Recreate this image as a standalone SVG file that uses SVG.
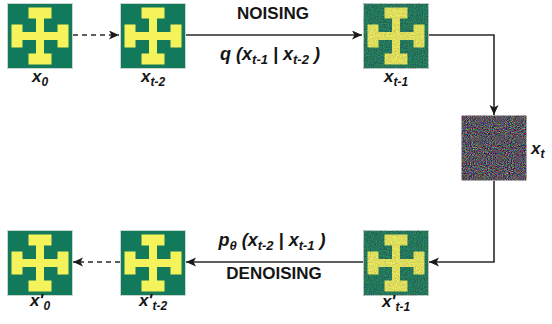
<svg xmlns="http://www.w3.org/2000/svg" xmlns:xlink="http://www.w3.org/1999/xlink" width="552" height="324" viewBox="0 0 552 324">
  <style>
    .lbl { font-family: "Liberation Sans", Arial, sans-serif; font-weight: bold; font-style: italic; font-size: 17px; fill: #151515; }
    .sub { font-size: 12px; }
    .cap { font-family: "Liberation Sans", Arial, sans-serif; font-weight: bold; font-size: 17px; fill: #151515; }
    .eq  { font-family: "Liberation Sans", Arial, sans-serif; font-weight: bold; font-style: italic; font-size: 18px; fill: #151515; }
    .eq .sub { font-size: 13px; }
    .wire { fill: none; stroke: #2a2a2a; stroke-width: 1.6; }
    .dash { stroke-dasharray: 5 4; }
  </style>
  <defs>
    <marker id="head" markerUnits="userSpaceOnUse" markerWidth="11" markerHeight="10" refX="10" refY="4.5" orient="auto">
      <path d="M0,0 L10,4.5 L0,9 L2.5,4.5 Z" fill="#1a1a1a"/>
    </marker>
    <!-- clean tile: green square with yellow cross -->
    <g id="tile">
      <rect x="0" y="0" width="65" height="65" fill="#127a5b" stroke="#c9d6cf" stroke-width="1"/>
      <path fill="#f5f35c" d="M21,4 H44 V15 H36.5 V28.5 H50 V21 H61 V44 H50 V36.5 H36.5 V50 H44 V61 H21 V50 H28.5 V36.5 H15 V44 H4 V21 H15 V28.5 H28.5 V15 H21 Z"/>
    </g>
    <!-- partially noised tile -->
    <filter id="grain" x="0" y="0" width="1" height="1" color-interpolation-filters="sRGB">
      <feTurbulence type="fractalNoise" baseFrequency="0.85" numOctaves="2" seed="3" result="n"/>
      <feColorMatrix in="n" type="matrix" values="2.6 0 0 0 -0.8  0 2.6 0 0 -0.8  0 0 2.6 0 -0.8  0 0 0 0 0.5" result="nc"/>
      <feComposite in="SourceGraphic" in2="nc" operator="arithmetic" k1="0" k2="0.85" k3="0.38" k4="-0.17" result="mix"/>
      <feComposite in="mix" in2="SourceGraphic" operator="in"/>
    </filter>
    <!-- pure noise tile -->
    <filter id="static" x="0" y="0" width="1" height="1" color-interpolation-filters="sRGB">
      <feTurbulence type="fractalNoise" baseFrequency="0.95" numOctaves="2" seed="7" result="n"/>
      <feColorMatrix in="n" type="matrix" values="1.25 0 0 0 -0.28  0 1.25 0 0 -0.3  0 0 1.25 0 -0.26  0 0 0 0 1"/>
      <feComposite in2="SourceGraphic" operator="in"/>
    </filter>
  </defs>

  <g id="connectors">
    <line class="wire dash" x1="73" y1="35" x2="119" y2="35" marker-end="url(#head)"/>
    <line class="wire" x1="185" y1="35" x2="362" y2="35" marker-end="url(#head)"/>
    <path class="wire" d="M428,35 H494 V115" marker-end="url(#head)"/>
    <path class="wire" d="M494,181 V262 H429" marker-end="url(#head)"/>
    <line class="wire" x1="363" y1="262" x2="186" y2="262" marker-end="url(#head)"/>
    <line class="wire dash" x1="120" y1="262" x2="73" y2="262" marker-end="url(#head)"/>
  </g>

  <g id="step-labels">
    <text class="cap" x="273" y="19" text-anchor="middle">NOISING</text>
    <text class="eq" x="270" y="60" text-anchor="middle">q (x<tspan class="sub" dy="4">t-1</tspan><tspan dy="-4"> | x</tspan><tspan class="sub" dy="4">t-2</tspan><tspan dy="-4"> )</tspan></text>
    <text class="eq" x="272" y="246" text-anchor="middle">p<tspan class="sub" dy="4">θ</tspan><tspan dy="-4"> (x</tspan><tspan class="sub" dy="4">t-2</tspan><tspan dy="-4"> | x</tspan><tspan class="sub" dy="4">t-1</tspan><tspan dy="-4"> )</tspan></text>
    <text class="cap" x="274" y="279" text-anchor="middle">DENOISING</text>
  </g>

  <g id="node-x0">
    <use xlink:href="#tile" x="7.5" y="3.5"/>
    <text class="lbl" x="40" y="82" text-anchor="middle">x<tspan class="sub" dy="4">0</tspan></text>
  </g>
  <g id="node-xt-2">
    <use xlink:href="#tile" x="120.5" y="3.5"/>
    <text class="lbl" x="153" y="82" text-anchor="middle">x<tspan class="sub" dy="4">t-2</tspan></text>
  </g>
  <g id="node-xt-1">
    <use xlink:href="#tile" x="363.5" y="3.5" filter="url(#grain)"/>
    <text class="lbl" x="396" y="82" text-anchor="middle">x<tspan class="sub" dy="4">t-1</tspan></text>
  </g>
  <g id="node-xt">
    <rect x="461.5" y="115.5" width="65" height="65" fill="#555" filter="url(#static)"/>
    <text class="lbl" x="531" y="154">x<tspan class="sub" dy="4">t</tspan></text>
  </g>
  <g id="node-x'0">
    <use xlink:href="#tile" x="7.5" y="230.5"/>
    <text class="lbl" x="40" y="306" text-anchor="middle">x'<tspan class="sub" dy="4">0</tspan></text>
  </g>
  <g id="node-x't-2">
    <use xlink:href="#tile" x="120.5" y="230.5"/>
    <text class="lbl" x="153" y="306" text-anchor="middle">x'<tspan class="sub" dy="4">t-2</tspan></text>
  </g>
  <g id="node-x't-1">
    <use xlink:href="#tile" x="363.5" y="230.5" filter="url(#grain)"/>
    <text class="lbl" x="396" y="307" text-anchor="middle">x'<tspan class="sub" dy="4">t-1</tspan></text>
  </g>
</svg>
